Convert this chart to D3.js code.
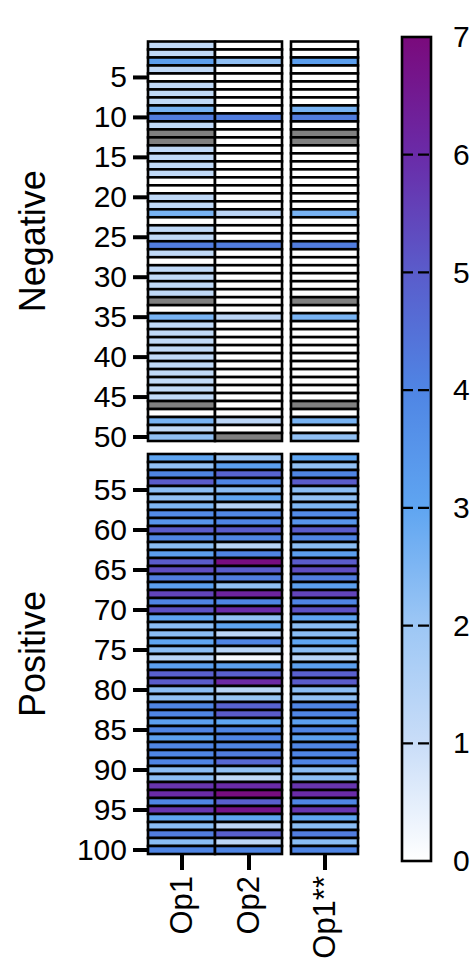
<!DOCTYPE html>
<html>
<head>
<meta charset="utf-8">
<script src="https://cdn.jsdelivr.net/npm/d3@7"></script>
<style>
    body { margin: 0; background: #fff; }
    text { font-family: "Liberation Sans", Arial, sans-serif; fill: #000; }
</style>
</head>
<body>
<svg id="chart" width="472" height="959"></svg>
<script>
"use strict";

// categories
var columns = ["Op1", "Op2", "Op1**"];
var groups = ["Negative", "Positive"];
var negativeRows = d3.range(1, 51);
var positiveRows = d3.range(51, 101);

// tick labels
var negativeTicks = [5, 10, 15, 20, 25, 30, 35, 40, 45, 50];
var positiveTicks = [55, 60, 65, 70, 75, 80, 85, 90, 95, 100];
var colorTicks = [0, 1, 2, 3, 4, 5, 6, 7];

// colour map stops (value -> colour)
var colorStops = [0, 1, 2, 3, 4, 5, 6, 7];
var colorRange = ["#ffffff", "#c9ddf8", "#9dc7f5", "#5fa5f1", "#4f85e4", "#5a5ccb", "#6a2ba8", "#7a0a7c"];

// values, NaN = missing (grey)
var op1Negative = [1.2, 1.2, 3.2, 1.2, 0, 1.2, 1.2, 1.2, 2.6, 4.2,
    1.2, NaN, NaN, 1.2, 1.2, 1.2, 1.2, 0, 0, 1.2,
    1.2, 2.6, 0, 1.2, 1.2, 4.2, 1.2, 0, 1.2, 1.2,
    1.2, 1.2, NaN, 0, 2.6, 1.2, 1.2, 1.2, 1.2, 1.2,
    1.2, 1.2, 1.2, 1.2, 1.2, NaN, 0, 2.6, 1.2, 2.2];
var op2Negative = [0, 0, 2.2, 0, 0, 0, 0, 0, 0, 4.2,
    0, 0, 0, 0, 0, 0, 0, 0, 0, 0,
    0, 1.3, 0, 0, 0, 4.2, 0, 0, 0, 0,
    0, 0, 0, 0, 1.3, 0, 0, 0, 0, 0,
    0, 0, 0, 0, 0, 0, 0, 1.3, 0, NaN];
var op1StarNegative = [0, 0, 3.2, 0, 0, 0, 0, 0, 2.6, 4.2,
    0, NaN, NaN, 0, 0, 0, 0, 0, 0, 0,
    0, 2.6, 0, 0, 0, 4.2, 0, 0, 0, 0,
    0, 0, NaN, 0, 2.6, 0, 0, 0, 0, 0,
    0, 0, 0, 0, 0, NaN, 0, 2.6, 0, 2.2];

var op1Positive = [3.0, 2.2, 4.0, 5.0, 2.3, 2.2, 2.5, 3.8, 3.5, 5.0,
    4.0, 2.3, 3.2, 5.0, 5.3, 4.2, 3.2, 5.5, 4.0, 5.2,
    3.0, 2.3, 2.3, 3.0, 2.3, 1.4, 3.2, 4.9, 5.0, 2.3,
    2.2, 4.0, 4.0, 3.2, 4.0, 3.2, 4.0, 4.0, 4.0, 2.3,
    2.3, 5.8, 6.0, 4.0, 5.8, 3.0, 2.3, 4.2, 2.3, 4.0];
var op2Positive = [2.1, 3.2, 4.8, 4.0, 2.3, 3.0, 1.5, 3.9, 4.0, 5.0,
    4.0, 1.4, 4.0, 6.9, 5.0, 4.2, 2.2, 6.2, 4.0, 6.0,
    2.2, 3.0, 1.3, 4.0, 1.4, 0.2, 3.2, 4.9, 6.1, 1.4,
    2.1, 4.8, 5.0, 3.0, 4.0, 4.0, 4.0, 4.2, 4.7, 2.2,
    1.3, 6.0, 6.9, 4.9, 6.7, 3.0, 1.3, 4.9, 1.3, 4.0];
var op1StarPositive = [3.0, 2.2, 4.0, 5.0, 2.3, 2.2, 2.5, 3.8, 3.5, 5.0,
    4.0, 2.3, 3.2, 5.0, 5.3, 4.2, 3.2, 5.5, 4.0, 5.2,
    3.0, 2.3, 2.3, 3.0, 2.3, 1.4, 3.2, 4.9, 5.0, 2.3,
    2.2, 4.0, 4.0, 3.2, 4.0, 3.2, 4.0, 4.0, 4.0, 2.3,
    2.3, 5.8, 6.0, 4.0, 5.8, 3.0, 2.3, 4.2, 2.3, 4.0];

var panels = [
    {name: groups[0], rows: negativeRows, ticks: negativeTicks, top: 41.5, bottom: 441,
        values: [op1Negative, op2Negative, op1StarNegative]},
    {name: groups[1], rows: positiveRows, ticks: positiveTicks, top: 454, bottom: 854,
        values: [op1Positive, op2Positive, op1StarPositive]}
];

var svg = d3.select("#chart");
var colWidth = 67;
var missingColor = "#808080";

var color = d3.scaleLinear()
    .domain(colorStops)
    .range(colorRange)
    .interpolate(d3.interpolateRgb);

var x = d3.scaleOrdinal()
    .domain(columns)
    .range([181.5, 248.5, 324.5]);

panels.forEach(function (panel) {
    var y = d3.scaleBand()
        .domain(panel.rows)
        .range([panel.top, panel.bottom]);

    var cells = [];
    columns.forEach(function (col, c) {
        panel.rows.forEach(function (row, r) {
            cells.push({col: col, row: row, value: panel.values[c][r]});
        });
    });

    svg.append("g")
        .selectAll("rect")
        .data(cells)
        .join("rect")
        .attr("x", function (d) { return x(d.col) - colWidth / 2; })
        .attr("y", function (d) { return y(d.row); })
        .attr("width", colWidth)
        .attr("height", y.bandwidth())
        .attr("fill", function (d) { return isNaN(d.value) ? missingColor : color(d.value); })
        .attr("stroke", "#000")
        .attr("stroke-width", 2.6);

    var axis = svg.append("g")
        .attr("transform", "translate(148,0)")
        .call(d3.axisLeft(y).tickValues(panel.ticks).tickSize(15).tickPadding(6));
    axis.select(".domain").remove();
    axis.selectAll(".tick line").attr("stroke", "#000").attr("stroke-width", 4);
    axis.selectAll(".tick text")
        .attr("font-size", 30)
        .attr("font-family", "'Liberation Sans', Arial, sans-serif")
        .attr("fill", "#000");

    svg.append("text")
        .attr("transform", "translate(45," + ((panel.top + panel.bottom) / 2) + ") rotate(-90)")
        .attr("text-anchor", "middle")
        .attr("font-size", 36)
        .text(panel.name);
});

// column axis
var xAxis = svg.append("g")
    .attr("transform", "translate(0,854)")
    .call(d3.axisBottom(x).tickSize(16).tickFormat(""));
xAxis.select(".domain").remove();
xAxis.selectAll(".tick line").attr("stroke", "#000").attr("stroke-width", 4);

svg.append("g")
    .selectAll("text")
    .data(columns)
    .join("text")
    .attr("transform", function (d) { return "translate(" + x(d) + ",876) rotate(-90)"; })
    .attr("text-anchor", "end")
    .attr("dy", "0.35em")
    .attr("font-size", 31)
    .text(function (d) { return d; });

// colour bar
var barX = 402, barW = 29;
var c = d3.scaleLinear().domain([0, 7]).range([861, 37]);

var grad = svg.append("defs").append("linearGradient")
    .attr("id", "colorbar")
    .attr("x1", "0%").attr("y1", "100%")
    .attr("x2", "0%").attr("y2", "0%");
grad.selectAll("stop")
    .data(colorStops)
    .join("stop")
    .attr("offset", function (d) { return (d / 7 * 100) + "%"; })
    .attr("stop-color", function (d) { return color(d); });

svg.append("rect")
    .attr("x", barX)
    .attr("y", c(7))
    .attr("width", barW)
    .attr("height", c(0) - c(7))
    .attr("fill", "url(#colorbar)")
    .attr("stroke", "#000")
    .attr("stroke-width", 2.6);

svg.append("g")
    .selectAll("line")
    .data(colorTicks.slice(1, -1))
    .join("line")
    .attr("x1", barX).attr("x2", barX + barW)
    .attr("y1", function (d) { return c(d); })
    .attr("y2", function (d) { return c(d); })
    .attr("stroke", "#000")
    .attr("stroke-width", 2.2)
    .attr("stroke-dasharray", "11,5");

var cAxis = svg.append("g")
    .attr("transform", "translate(" + (barX + barW) + ",0)")
    .call(d3.axisRight(c).tickValues(colorTicks).tickFormat(d3.format("d")).tickSize(0).tickPadding(22));
cAxis.select(".domain").remove();
cAxis.selectAll(".tick text")
    .attr("font-size", 30)
    .attr("font-family", "'Liberation Sans', Arial, sans-serif")
    .attr("fill", "#000");
</script>
</body>
</html>
